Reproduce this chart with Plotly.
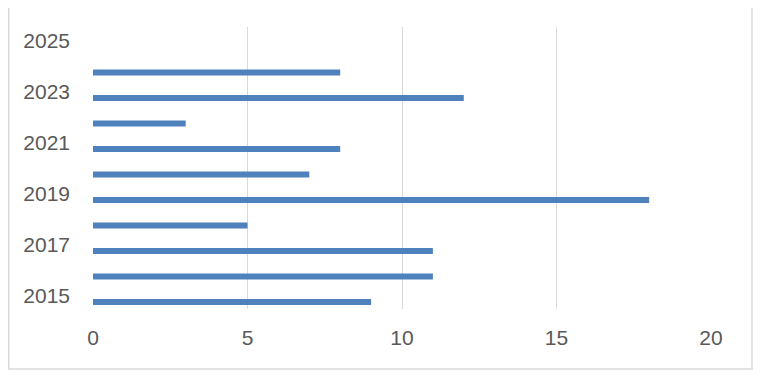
import plotly.graph_objects as go

years = [2015, 2016, 2017, 2018, 2019, 2020, 2021, 2022, 2023, 2024]
values = [9, 11, 11, 5, 18, 7, 8, 3, 12, 8]
x_ticks = [0, 5, 10, 15, 20]
y_ticks = [2015, 2017, 2019, 2021, 2023, 2025]

fig = go.Figure()
fig.add_trace(go.Bar(
    x=values, y=years, orientation="h",
    marker=dict(color="#4F81BD", line=dict(width=0)),
    width=0.235, offset=-0.3525,
))

grid = "#d9d9d9"
fig.update_layout(
    width=765, height=381,
    margin=dict(l=85, r=62, t=19, b=80, autoexpand=False),
    paper_bgcolor="white", plot_bgcolor="white",
    showlegend=False,
    font=dict(family="Liberation Sans, Arial, sans-serif", size=21, color="#595959"),
    xaxis=dict(range=[0, 20], tickvals=x_ticks, showgrid=True, gridcolor=grid, gridwidth=1,
               zeroline=False, showline=False, ticks="", ticklabelstandoff=14, automargin=False,
               tickfont=dict(size=21, color="#595959")),
    yaxis=dict(range=[2014.49, 2025.55], tickvals=y_ticks, showgrid=False, zeroline=False,
               showline=False, ticks="", ticklabelstandoff=22, automargin=False,
               tickfont=dict(size=21, color="#595959")),
    shapes=[dict(type="rect", xref="paper", yref="paper",
                 x0=-0.1363, x1=1.0663, y0=-0.2128, y1=1.2,
                 line=dict(color=grid, width=1.5), fillcolor="rgba(0,0,0,0)", layer="below")],
)
fig.write_html("out.html")
